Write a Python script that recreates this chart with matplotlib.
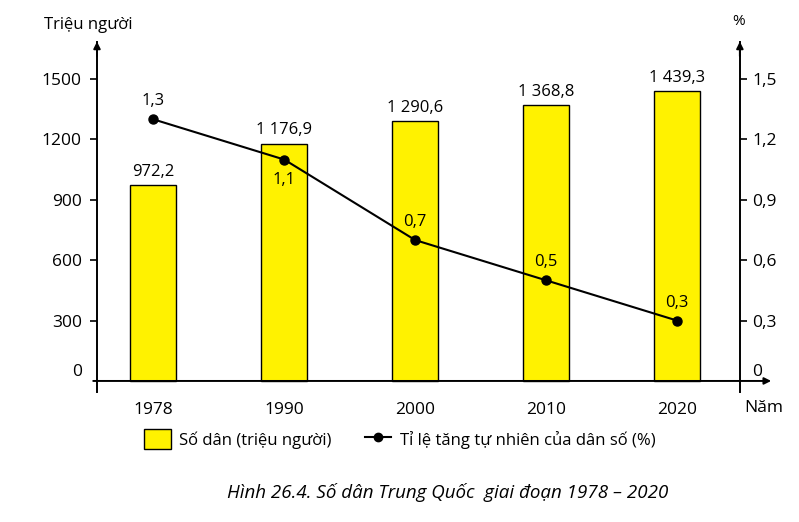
import numpy as np
import matplotlib.pyplot as plt
import matplotlib.transforms as mtransforms
from matplotlib.patches import Patch
from matplotlib.lines import Line2D

plt.rcParams['font.family'] = ['Open Sans', 'DejaVu Sans']

years = ['1978', '1990', '2000', '2010', '2020']
population = [972.2, 1176.9, 1290.6, 1368.8, 1439.3]
growth = [1.3, 1.1, 0.7, 0.5, 0.3]
pop_labels = ['972,2', '1 176,9', '1 290,6', '1 368,8', '1 439,3']
growth_labels = ['1,3', '1,1', '0,7', '0,5', '0,3']
left_ticks = [0, 300, 600, 900, 1200, 1500]
right_ticks = [0, 0.3, 0.6, 0.9, 1.2, 1.5]
right_ticklabels = ['0', '0,3', '0,6', '0,9', '1,2', '1,5']

fig = plt.figure(figsize=(7.99, 5.22), dpi=100)
ax = fig.add_axes([0.1214, 0.249, 0.8046, 0.6705])
ax2 = ax.twinx()

x = np.arange(len(years))
ax.bar(x, population, width=0.35, color='#fff200', edgecolor='black', linewidth=1.0, zorder=2)
for xi, v, s in zip(x, population, pop_labels):
    ax.text(xi, v + 28, s, ha='center', va='bottom', fontsize=12)

ax2.plot(x, growth, color='black', lw=1.5, marker='o', ms=6.5, zorder=3)
for i, (xi, v, s) in enumerate(zip(x, growth, growth_labels)):
    if i == 1:
        ax2.text(xi, v - 0.06, s, ha='center', va='top', fontsize=12)
    else:
        ax2.text(xi, v + 0.05, s, ha='center', va='bottom', fontsize=12)

ax.set_xlim(-0.43, 4.48)
ax.set_ylim(-55, 1684)
ax2.set_ylim(-0.055, 1.684)

ax.set_yticks(left_ticks)
ax.set_yticklabels([str(t) for t in left_ticks])
ax2.set_yticks(right_ticks)
ax2.set_yticklabels(right_ticklabels)
ax.set_xticks(x)
ax.set_xticklabels(years)
ax.tick_params(axis='x', length=0, pad=7, labelsize=12.5)
ax.tick_params(axis='y', length=5, width=1.2, labelsize=12.5, pad=6)
ax2.tick_params(axis='y', length=5, width=1.2, labelsize=12.5, pad=4)

# zero labels sit a little above the baseline
up = mtransforms.ScaledTranslation(0, 8 / 72, fig.dpi_scale_trans)
for a in (ax, ax2):
    lbl = a.get_yticklabels()[0]
    lbl.set_transform(lbl.get_transform() + up)
    a.yaxis.get_major_ticks()[0].tick1line.set_visible(False)
    a.yaxis.get_major_ticks()[0].tick2line.set_visible(False)

for a in (ax, ax2):
    a.spines['top'].set_visible(False)
    a.spines['bottom'].set_visible(False)
    a.spines['left'].set_linewidth(1.4)
    a.spines['right'].set_linewidth(1.4)
ax2.spines['left'].set_visible(False)
ax.spines['right'].set_visible(False)

# axis arrows
arrow = dict(arrowstyle='-|>', color='black', lw=1.4, mutation_scale=10)
ax.annotate('', xy=(4.74, 0), xytext=(-0.48, 0), arrowprops=arrow, annotation_clip=False, zorder=4)
ax.annotate('', xy=(-0.43, 1700), xytext=(-0.43, 1600), arrowprops=arrow, annotation_clip=False)
ax.annotate('', xy=(4.48, 1700), xytext=(4.48, 1600), arrowprops=arrow, annotation_clip=False)

fig.text(0.055, 0.952, 'Triệu người', fontsize=12, va='center')
fig.text(0.917, 0.958, '%', fontsize=11, va='center')
fig.text(0.932, 0.218, 'Năm', fontsize=12.5, va='center')

handles = [Patch(facecolor='#fff200', edgecolor='black', linewidth=1.0),
           Line2D([0], [0], color='black', lw=1.5, marker='o', ms=6)]
fig.legend(handles, ['Số dân (triệu người)', 'Tỉ lệ tăng tự nhiên của dân số (%)'],
           loc='center', bbox_to_anchor=(0.5, 0.159), ncol=2, frameon=False,
           fontsize=12, handlelength=1.6, handleheight=1.5, columnspacing=2.0, handletextpad=0.5)

fig.text(0.56, 0.057, 'Hình 26.4. Số dân Trung Quốc  giai đoạn 1978 – 2020',
         ha='center', va='center', fontsize=13.5, style='italic')

fig.savefig('out.png', dpi=100)
